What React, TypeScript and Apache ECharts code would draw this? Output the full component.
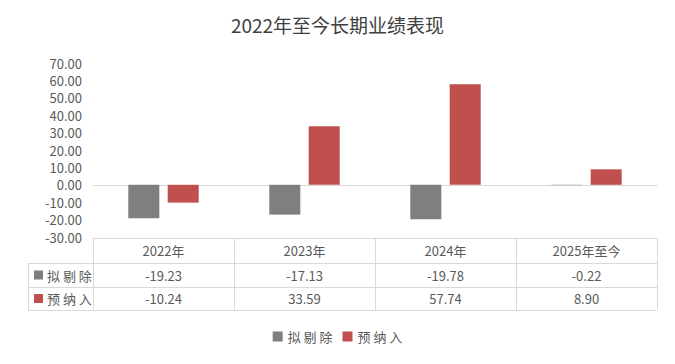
import React, { useEffect, useRef } from "react";
import * as echarts from "echarts";

const title = "2022年至今长期业绩表现";
const categories = ["2022年", "2023年", "2024年", "2025年至今"];
const seriesNames = ["拟剔除", "预纳入"];
const removeValues = [-19.23, -17.13, -19.78, -0.22];
const includeValues = [-10.24, 33.59, 57.74, 8.9];
const colors = ["#7f7f7f", "#c0504d"];

const GRID_LEFT = 93;
const GRID_RIGHT = 657;
const GRID_TOP = 63;
const GRID_BOTTOM = 237;
const ROW_H = [238, 263, 287, 310];
const LABEL_LEFT = 28;
const LINE_COLOR = "#d9d9d9";
const TEXT_COLOR = "#595959";
const FONT = "'Noto Sans CJK SC', 'Noto Sans', sans-serif";

function buildTable() {
  const els: any[] = [];
  const colW = (GRID_RIGHT - GRID_LEFT) / categories.length;
  const line = (x1: number, y1: number, x2: number, y2: number) =>
    els.push({
      type: "line",
      shape: { x1, y1, x2, y2 },
      style: { stroke: LINE_COLOR, lineWidth: 1 },
      silent: true,
    });
  line(GRID_LEFT, ROW_H[0] + 0.5, GRID_RIGHT, ROW_H[0] + 0.5);
  for (let i = 1; i < ROW_H.length; i++) {
    line(LABEL_LEFT, ROW_H[i] + 0.5, GRID_RIGHT, ROW_H[i] + 0.5);
  }
  for (let c = 0; c <= categories.length; c++) {
    const x = Math.round(GRID_LEFT + c * colW) + 0.5;
    line(x, ROW_H[0], x, ROW_H[3]);
  }
  line(LABEL_LEFT + 0.5, ROW_H[1], LABEL_LEFT + 0.5, ROW_H[3]);
  const text = (x: number, y: number, t: string, align: string = "center") =>
    els.push({
      type: "text",
      x,
      y,
      style: {
        text: t,
        fill: TEXT_COLOR,
        font: `13px ${FONT}`,
        align,
        verticalAlign: "middle",
      },
      silent: true,
    });
  categories.forEach((c, i) => {
    text(GRID_LEFT + (i + 0.5) * colW, (ROW_H[0] + ROW_H[1]) / 2, c);
  });
  const rows = [removeValues, includeValues];
  rows.forEach((vals, r) => {
    const cy = (ROW_H[r + 1] + ROW_H[r + 2]) / 2;
    els.push({
      type: "rect",
      shape: { x: 34, y: cy - 4.5, width: 9, height: 9 },
      style: { fill: colors[r] },
      silent: true,
    });
    els.push({
      type: "text",
      x: 47,
      y: cy,
      style: {
        text: seriesNames[r].split("").join(" "),
        fill: TEXT_COLOR,
        font: `13px ${FONT}`,
        align: "left",
        verticalAlign: "middle",
      },
      silent: true,
    });
    vals.forEach((v, i) => {
      text(GRID_LEFT + (i + 0.5) * colW, cy, v.toFixed(2));
    });
  });
  return els;
}

export default function App() {
  const ref = useRef<HTMLDivElement>(null);
  useEffect(() => {
    if (!ref.current) return;
    const chart = echarts.init(ref.current, null, { renderer: "svg" });
    chart.setOption({
      animation: false,
      backgroundColor: "#ffffff",
      title: {
        text: title,
        left: "center",
        top: 10,
        textStyle: {
          fontSize: 19,
          fontWeight: "normal",
          color: "#404040",
          fontFamily: FONT,
        },
      },
      legend: {
        bottom: 16,
        left: "center",
        itemWidth: 10,
        itemHeight: 10,
        itemGap: 10,
        icon: "rect",
        textStyle: { color: TEXT_COLOR, fontSize: 13, fontFamily: FONT },
        formatter: (n: string) => n.split("").join(" "),
        data: seriesNames,
      },
      grid: {
        left: GRID_LEFT,
        right: 675 - GRID_RIGHT,
        top: GRID_TOP,
        bottom: 364 - GRID_BOTTOM,
        containLabel: false,
      },
      xAxis: {
        type: "category",
        data: categories,
        axisLine: { onZero: true, lineStyle: { color: LINE_COLOR } },
        axisTick: { show: false },
        axisLabel: { show: false },
      },
      yAxis: {
        type: "value",
        min: -30,
        max: 70,
        interval: 10,
        splitLine: { show: false },
        axisLine: { show: false },
        axisTick: { show: false },
        axisLabel: {
          color: TEXT_COLOR,
          fontSize: 13,
          fontFamily: FONT,
          margin: 11,
          formatter: (v: number) => v.toFixed(2),
        },
      },
      series: [
        {
          name: seriesNames[0],
          type: "bar",
          data: removeValues,
          barWidth: "22%",
          barGap: "27%",
          itemStyle: { color: colors[0] },
        },
        {
          name: seriesNames[1],
          type: "bar",
          data: includeValues,
          barWidth: "22%",
          itemStyle: { color: colors[1] },
        },
      ],
      graphic: buildTable(),
    });
    return () => chart.dispose();
  }, []);
  return <div ref={ref} style={{ width: 675, height: 364, margin: -8 }} />;
}
